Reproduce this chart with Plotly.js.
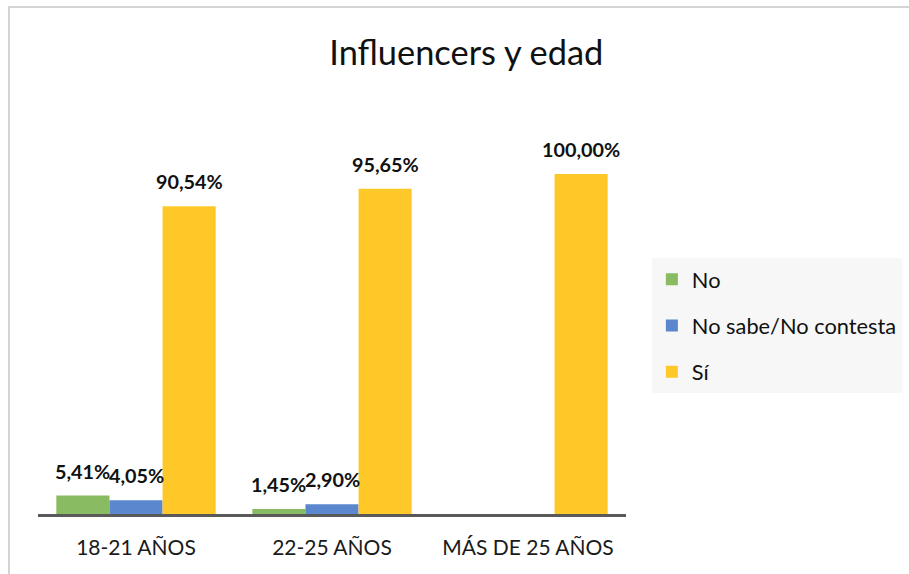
<!DOCTYPE html>
<html>
<head>
<meta charset="utf-8">
<script src="https://cdn.plot.ly/plotly-3.0.1.min.js"></script>
<style>
  html, body { margin: 0; padding: 0; background: #ffffff; overflow: hidden; }
  #chart { position: absolute; left: 0; top: 0; width: 909px; height: 574px; }
  #frame { position: absolute; left: 8px; top: 6px; width: 1000px; height: 1000px;
           border: 2px solid #d4d4d4; pointer-events: none; }
</style>
</head>
<body>
<div id="chart"></div>
<div id="frame"></div>
<script>
const categories = ["18-21 AÑOS", "22-25 AÑOS", "MÁS DE 25 AÑOS"];
const seriesNames = ["No", "No sabe/No contesta", "Sí"];
const valuesNo = [5.41, 1.45, 0];
const valuesNsNc = [4.05, 2.90, 0];
const valuesSi = [90.54, 95.65, 100];
const seriesColors = ["#88bb62", "#5b87cf", "#ffc829"];

const allValues = [valuesNo, valuesNsNc, valuesSi];
const bargap = 0.187;
const FONT = "Lato, 'Open Sans', sans-serif";

function fmt(v) { return v.toFixed(2).replace('.', ',') + '%'; }

const traces = allValues.map((vals, k) => ({
  type: 'bar',
  name: seriesNames[k],
  x: categories,
  y: vals,
  marker: { color: seriesColors[k], line: { width: 0 } },
  legendgroup: 'g' + k,
  hoverinfo: 'none'
}));

const annotations = [];
const w = (1 - bargap) / 3;
allValues.forEach((vals, k) => {
  vals.forEach((v, i) => {
    if (v > 0) {
      annotations.push({
        x: i + (k - 1) * w,
        y: v,
        xref: 'x', yref: 'y',
        text: '<b>' + fmt(v) + '</b>',
        showarrow: false,
        yanchor: 'bottom',
        yshift: 11,
        font: { family: FONT, size: 19.8, color: '#111111' }
      });
    }
  });
});

const layout = {
  width: 909, height: 574,
  margin: { l: 38, r: 283, t: 174, b: 60, autoexpand: false },
  paper_bgcolor: 'rgba(0,0,0,0)',
  plot_bgcolor: 'rgba(0,0,0,0)',
  title: {
    text: 'Influencers y edad',
    x: 0.513, xref: 'container', xanchor: 'center',
    y: 0.907, yref: 'container', yanchor: 'middle',
    font: { family: FONT, size: 34.4, color: '#111111' }
  },
  barmode: 'group',
  bargap: bargap,
  bargroupgap: 0,
  xaxis: {
    type: 'category',
    showline: true, linecolor: '#595959', linewidth: 3,
    ticks: '', showgrid: false, zeroline: false,
    tickfont: { family: FONT, size: 21, color: '#1a1a1a' },
    ticklabelstandoff: 13,
    automargin: false,
    fixedrange: true
  },
  yaxis: {
    visible: false, range: [0, 100], showgrid: false, zeroline: false,
    automargin: false, fixedrange: true
  },
  showlegend: true,
  legend: {
    x: 1.044, xanchor: 'left', y: 0.553, yanchor: 'middle',
    bgcolor: '#f7f7f7', borderwidth: 0,
    traceorder: 'grouped', tracegroupgap: 15,
    font: { family: FONT, size: 21.8, color: '#111111' }
  },
  annotations: annotations
};

Plotly.newPlot('chart', traces, layout, { displayModeBar: false, staticPlot: true });
</script>
</body>
</html>
